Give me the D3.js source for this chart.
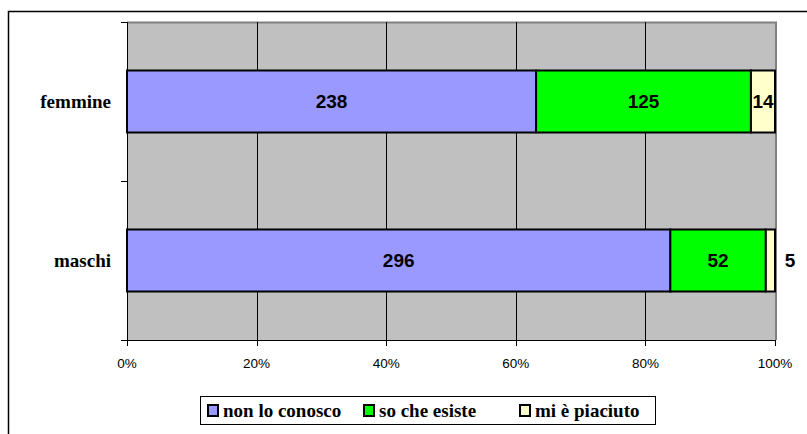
<!DOCTYPE html>
<html>
<head>
<meta charset="utf-8">
<script src="https://cdn.jsdelivr.net/npm/d3@7"></script>
<style>
  body { margin: 0; background: #fff; }
  #chart { position: relative; width: 807px; height: 434px; }
  svg { display: block; }
  .serif { position: absolute; font-family: "Liberation Serif", "Times New Roman", serif; font-weight: bold; font-size: 19px; line-height: 19px; white-space: nowrap; }
</style>
</head>
<body>
<div id="chart"></div>
<script>
// data
var categories = ["femmine", "maschi"];
var seriesNames = ["non lo conosco", "so che esiste", "mi è piaciuto"];
var nonLoConosco = [238, 296];
var soCheEsiste = [125, 52];
var miEPiaciuto = [14, 5];
var tickLabels = [0, 0.2, 0.4, 0.6, 0.8, 1];

var colors = ["#9999FF", "#00FF00", "#FFFFCC"];

var width = 807, height = 434;
var plot = {left: 127, right: 775, top: 22, bottom: 340};

var chart = d3.select("#chart");
var svg = chart.append("svg")
    .attr("width", width)
    .attr("height", height);

// outer frame (runs off the right and bottom edges)
svg.append("rect")
    .attr("x", 8.5).attr("y", 11.5)
    .attr("width", 830).attr("height", 450)
    .attr("fill", "#fff")
    .attr("stroke", "#000")
    .attr("stroke-width", 1.5);

var x = d3.scaleLinear().domain([0, 1]).range([plot.left, plot.right]);
var y = d3.scaleBand().domain(categories).range([plot.top, plot.bottom]).paddingInner(0.61).paddingOuter(0.305);

// plot background with the excel-ish shadow on top and right
svg.append("rect")
    .attr("x", plot.left).attr("y", plot.top)
    .attr("width", plot.right - plot.left).attr("height", plot.bottom - plot.top)
    .attr("fill", "#C0C0C0");
svg.append("path")
    .attr("d", "M" + plot.left + "," + (plot.top + 0.5) + "H" + (plot.right + 1) + "V" + plot.bottom)
    .attr("fill", "none")
    .attr("stroke", "#808080")
    .attr("stroke-width", 2);

// grid lines
svg.selectAll(".grid")
    .data(tickLabels.slice(1, -1))
    .enter().append("line")
    .attr("x1", d => Math.round(x(d)) + 0.5)
    .attr("x2", d => Math.round(x(d)) + 0.5)
    .attr("y1", plot.top)
    .attr("y2", plot.bottom)
    .attr("stroke", "#000")
    .attr("stroke-width", 1);

// stacked data
var rows = categories.map(function (c, i) {
    var vals = [nonLoConosco[i], soCheEsiste[i], miEPiaciuto[i]];
    var tot = d3.sum(vals);
    var acc = 0;
    return vals.map(function (v, j) {
        var seg = {cat: c, value: v, x0: acc / tot, x1: (acc + v) / tot, s: j};
        acc += v;
        return seg;
    });
});
var segs = rows.flat();

svg.selectAll(".seg")
    .data(segs)
    .enter().append("rect")
    .attr("x", d => x(d.x0))
    .attr("y", d => y(d.cat))
    .attr("width", d => x(d.x1) - x(d.x0))
    .attr("height", y.bandwidth())
    .attr("fill", d => colors[d.s])
    .attr("stroke", "#000")
    .attr("stroke-width", 2);

svg.selectAll(".lbl")
    .data(segs)
    .enter().append("text")
    .attr("font-family", "Liberation Sans, Arial, sans-serif")
    .attr("font-weight", "bold")
    .attr("font-size", 19)
    .attr("x", function (d) {
        var w = x(d.x1) - x(d.x0);
        // tiny last segment: excel pushes the label out past the bar
        if (w < 15) return x(d.x1) + 15;
        return (x(d.x0) + x(d.x1)) / 2;
    })
    .attr("y", d => y(d.cat) + y.bandwidth() / 2)
    .attr("dy", "0.36em")
    .attr("text-anchor", "middle")
    .text(d => d.value);

// axes
var axisG = svg.append("g");
axisG.append("line")
    .attr("x1", plot.left + 0.5).attr("x2", plot.left + 0.5)
    .attr("y1", plot.top).attr("y2", plot.bottom + 6)
    .attr("stroke", "#000");
axisG.append("line")
    .attr("x1", plot.left - 6).attr("x2", plot.right)
    .attr("y1", plot.bottom + 0.5).attr("y2", plot.bottom + 0.5)
    .attr("stroke", "#000");
// y ticks at category boundaries
var yTicks = [plot.top, (plot.top + plot.bottom) / 2, plot.bottom];
axisG.selectAll(".yt")
    .data(yTicks)
    .enter().append("line")
    .attr("x1", plot.left - 6).attr("x2", plot.left)
    .attr("y1", d => Math.round(d) + 0.5).attr("y2", d => Math.round(d) + 0.5)
    .attr("stroke", "#000");
axisG.selectAll(".xt")
    .data(tickLabels)
    .enter().append("line")
    .attr("x1", d => Math.round(x(d)) + 0.5).attr("x2", d => Math.round(x(d)) + 0.5)
    .attr("y1", plot.bottom).attr("y2", plot.bottom + 6)
    .attr("stroke", "#000");
axisG.selectAll(".xl")
    .data(tickLabels)
    .enter().append("text")
    .attr("font-family", "Liberation Sans, Arial, sans-serif")
    .attr("font-size", 13.5)
    .attr("x", d => x(d))
    .attr("y", plot.bottom + 28)
    .attr("text-anchor", "middle")
    .text(d3.format(".0%"));

// category labels as html so the serif face sticks
chart.selectAll(".yl")
    .data(categories)
    .enter().append("div")
    .attr("class", "serif")
    .style("right", (width - plot.left + 16) + "px")
    .style("top", d => (y(d) + y.bandwidth() / 2 - 10) + "px")
    .text(d => d);

// legend
var leg = svg.append("g");
leg.append("rect")
    .attr("x", 200.5).attr("y", 396.5)
    .attr("width", 455).attr("height", 28)
    .attr("fill", "#fff")
    .attr("stroke", "#000")
    .attr("stroke-width", 1);
var legX = [207, 363, 519];
leg.selectAll(".sw")
    .data(seriesNames)
    .enter().append("rect")
    .attr("x", (d, i) => legX[i] + 1).attr("y", 405)
    .attr("width", 10).attr("height", 11)
    .attr("fill", (d, i) => colors[i])
    .attr("stroke", "#000")
    .attr("stroke-width", 2);
chart.selectAll(".li")
    .data(seriesNames)
    .enter().append("div")
    .attr("class", "serif")
    .style("left", (d, i) => (legX[i] + 16) + "px")
    .style("top", "401px")
    .text(d => d);
</script>
</body>
</html>
